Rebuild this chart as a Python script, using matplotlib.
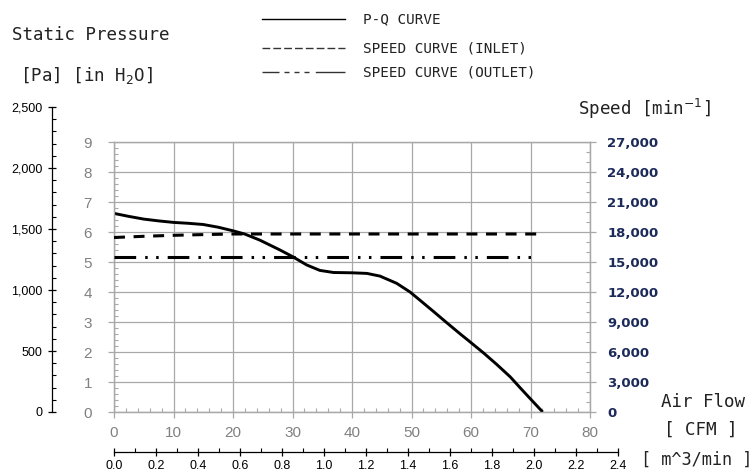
import matplotlib
matplotlib.use("Agg")
import matplotlib.pyplot as plt
from matplotlib.lines import Line2D
from matplotlib.ticker import MultipleLocator, FuncFormatter

plt.rcParams['lines.scale_dashes'] = False

# ---------------- data ----------------
pq_cfm = [0, 2.5, 5, 7.5, 10, 12.5, 15, 17.5, 20, 22, 24.5, 27.9, 30, 32.4, 34.6,
          36.9, 40, 42.5, 44.7, 47.5, 49.75, 51.4, 53.7, 55.9, 58.2, 59.7, 62.1,
          64.3, 66.6, 68.2, 69.6, 72.05]
pq_inh2o = [6.62, 6.52, 6.43, 6.37, 6.32, 6.29, 6.25, 6.16, 6.04, 5.93, 5.73, 5.40,
            5.18, 4.90, 4.72, 4.65, 4.64, 4.62, 4.53, 4.29, 4.00, 3.73, 3.35, 2.98,
            2.60, 2.36, 1.97, 1.59, 1.17, 0.82, 0.52, 0.0]

inlet_cfm = [0, 5, 10, 15, 20, 71.4]
inlet_rpm = [17450, 17570, 17670, 17740, 17800, 17800]

outlet_cfm = [0, 70.2]
outlet_rpm = [15500, 15500]

cfm_ticks = [0, 10, 20, 30, 40, 50, 60, 70, 80]
inh2o_ticks = [0, 1, 2, 3, 4, 5, 6, 7, 8, 9]
rpm_ticks = [0, 3000, 6000, 9000, 12000, 15000, 18000, 21000, 24000, 27000]
pa_ticks = [0, 500, 1000, 1500, 2000, 2500]
m3_ticks = [0.0, 0.2, 0.4, 0.6, 0.8, 1.0, 1.2, 1.4, 1.6, 1.8, 2.0, 2.2, 2.4]

legend_labels = ["P-Q CURVE", "SPEED CURVE (INLET)", "SPEED CURVE (OUTLET)"]

# ---------------- figure ----------------
W, H = 756, 471
fig = plt.figure(figsize=(W / 100, H / 100), dpi=100)
fig.patch.set_facecolor('white')

def fx(px):
    return px / W

def fy(py):
    return 1 - py / H

PX = 0.72  # points per pixel
grid_c = '#a8a8a8'
lab_grey = '#808080'

# main inner axes
ax = fig.add_axes([fx(114), fy(412), (590 - 114) / W, (412 - 142) / H])
ax.set_xlim(0, 80)
ax.set_ylim(0, 9)
ax.set_xticks(cfm_ticks)
ax.set_yticks(inh2o_ticks)
ax.xaxis.set_minor_locator(MultipleLocator(2))
ax.yaxis.set_minor_locator(MultipleLocator(0.2))
ax.grid(True, which='major', color=grid_c, linewidth=0.9)
for s in ax.spines.values():
    s.set_color(grid_c)
    s.set_linewidth(0.9)
ax.tick_params(which='major', direction='out', length=6 * PX, width=0.9, color=grid_c,
               labelsize=11, labelcolor=lab_grey)
ax.tick_params(axis='y', which='major', pad=11.5)
ax.tick_params(axis='x', which='major', pad=5.5)
ax.tick_params(which='minor', direction='in', length=4 * PX, width=0.8, color=grid_c)
for lab in ax.get_xticklabels() + ax.get_yticklabels():
    lab.set_family('Liberation Sans')
ax.set_axisbelow(True)

ax.plot(pq_cfm, pq_inh2o, color='black', linewidth=2.1, solid_capstyle='butt',
        solid_joinstyle='round', zorder=5)

# right speed axis
axr = ax.twinx()
axr.set_ylim(0, 27000)
axr.set_yticks(rpm_ticks)
axr.yaxis.set_minor_locator(MultipleLocator(1000))
axr.yaxis.set_major_formatter(FuncFormatter(lambda v, p: f"{int(v):,}"))
for s in axr.spines.values():
    s.set_color(grid_c)
    s.set_linewidth(0.9)
axr.tick_params(axis='y', which='major', direction='out', length=6 * PX, width=0.9,
                color=grid_c, labelsize=9.5, labelcolor='#1c2a5a', pad=8)
axr.tick_params(axis='y', which='minor', direction='in', length=4 * PX, width=0.8,
                color=grid_c)
for lab in axr.get_yticklabels():
    lab.set_fontweight('bold')
    lab.set_family('DejaVu Sans')

l_in, = axr.plot(inlet_cfm, inlet_rpm, color='black', linewidth=2.2, zorder=5)
l_in.set_dashes((7.9, 6.2))
l_in.set_dash_capstyle('butt')
l_out, = axr.plot(outlet_cfm, outlet_rpm, color='black', linewidth=2.2, zorder=5)
l_out.set_dashes((15.6, 6.5, 1.8, 6.1, 1.8, 6.5))
l_out.set_dash_capstyle('butt')

# outer Pa axis
ax_pa = fig.add_axes([fx(52), fy(412), 0.0001, (412 - 107) / H])
ax_pa.set_ylim(0, 2500)
ax_pa.set_yticks(pa_ticks)
ax_pa.yaxis.set_minor_locator(MultipleLocator(100))
ax_pa.yaxis.set_major_formatter(FuncFormatter(lambda v, p: f"{int(v):,}"))
ax_pa.set_xticks([])
for k in ['top', 'right', 'bottom']:
    ax_pa.spines[k].set_visible(False)
ax_pa.spines['left'].set_linewidth(0.9)
ax_pa.patch.set_visible(False)
ax_pa.tick_params(axis='y', which='major', direction='inout', length=8 * PX, width=0.9,
                  labelsize=9, pad=4)
ax_pa.tick_params(axis='y', which='minor', direction='in', length=4 * PX, width=0.8)
for lab in ax_pa.get_yticklabels():
    lab.set_family('Liberation Sans')

# outer m3/min axis
ax_m3 = fig.add_axes([fx(114), fy(452), (618 - 114) / W, 0.0001])
ax_m3.set_xlim(0, 2.4)
ax_m3.set_xticks(m3_ticks)
ax_m3.xaxis.set_minor_locator(MultipleLocator(0.1))
ax_m3.xaxis.set_major_formatter(FuncFormatter(lambda v, p: f"{v:.1f}"))
ax_m3.set_yticks([])
for k in ['top', 'right', 'left']:
    ax_m3.spines[k].set_visible(False)
ax_m3.spines['bottom'].set_linewidth(0.9)
ax_m3.patch.set_visible(False)
ax_m3.tick_params(axis='x', which='major', direction='inout', length=8 * PX, width=0.9,
                  labelsize=9, pad=3)
ax_m3.tick_params(axis='x', which='minor', direction='in', length=4 * PX, width=0.8)
for lab in ax_m3.get_xticklabels():
    lab.set_family('Liberation Sans')

# ---------------- texts ----------------
mono = 'DejaVu Sans Mono'
fig.text(fx(12), fy(35), "Static Pressure", family=mono, fontsize=12.6, va='center',
         ha='left', color='#222222')
fig.text(fx(20), fy(75), r"[Pa] [in H$_2$O]", family=mono, fontsize=12.6, va='center',
         ha='left', color='#222222')
fig.text(fx(578), fy(109), r"Speed [min$^{-1}$]", family=mono, fontsize=12.6,
         va='center', ha='left', color='#222222')
fig.text(fx(745), fy(402), "Air Flow", family=mono, fontsize=12.6, va='center',
         ha='right', color='#222222')
fig.text(fx(738), fy(430), "[ CFM ]", family=mono, fontsize=12.6, va='center',
         ha='right', color='#222222')
fig.text(fx(752), fy(460), "[ m^3/min ]", family=mono, fontsize=12.2, va='center',
         ha='right', color='#222222')

# legend (drawn manually)
leg_y = [19, 48, 72]
lx0, lx1 = fx(262), fx(345)
la = Line2D([lx0, lx1], [fy(leg_y[0])] * 2, color='black', linewidth=1.0,
            transform=fig.transFigure)
lb = Line2D([lx0, lx1], [fy(leg_y[1])] * 2, color='#333333', linewidth=1.0,
            transform=fig.transFigure)
lb.set_dashes((5.6, 2.2))
lc = Line2D([lx0, lx1], [fy(leg_y[2])] * 2, color='#333333', linewidth=1.0,
            transform=fig.transFigure)
lc.set_dashes(tuple(v * PX for v in (17, 5, 5, 5, 5, 5, 5, 6.3, 40, 1)))
for ln in (la, lb, lc):
    fig.add_artist(ln)
for yy, t in zip(leg_y, legend_labels):
    fig.text(fx(363), fy(yy), t, family=mono, fontsize=10.3, va='center', ha='left',
             color='#222222')

fig.savefig("out.png", dpi=100, facecolor='white')
